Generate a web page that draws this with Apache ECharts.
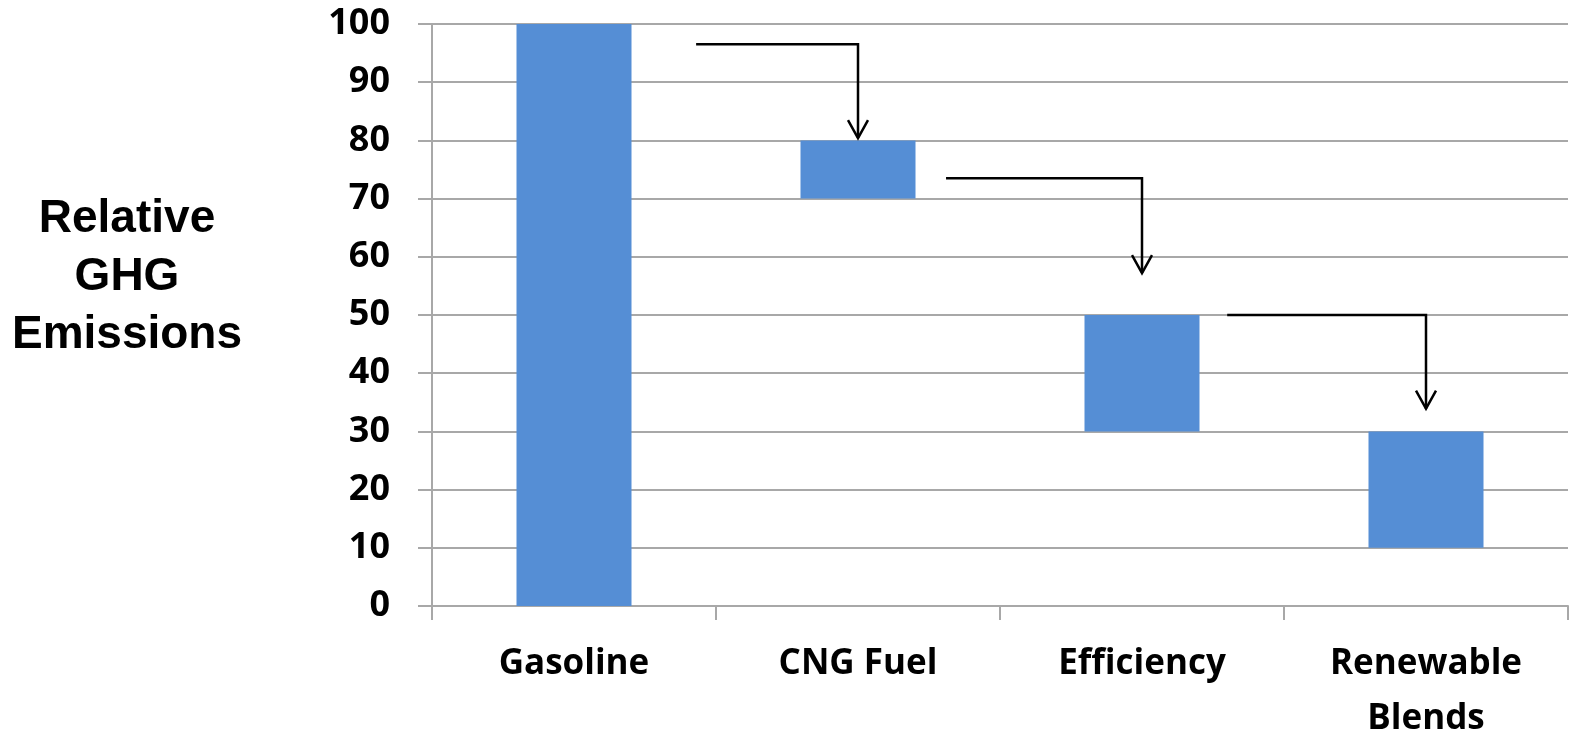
<!DOCTYPE html>
<html>
<head>
<meta charset="utf-8">
<script src="https://cdn.jsdelivr.net/npm/echarts@6/dist/echarts.min.js"></script>
<style>
html,body{margin:0;padding:0;background:#fff;}
#chart{width:1569px;height:734px;}
</style>
</head>
<body>
<div id="chart"></div>
<script>
// ---- data ----
var categories = ['Gasoline', 'CNG Fuel', 'Efficiency', 'Renewable\nBlends'];
var barBase = [0, 70, 30, 10];       // invisible lower part of each bar
var barHeight = [100, 10, 20, 20];   // visible part (top - base)
var yTicks = [0, 10, 20, 30, 40, 50, 60, 70, 80, 90, 100];
// arrows: from category index, start offset (fraction of a band), start value, end value
var arrowFrom = [0, 1, 2];
var arrowStartFrac = [0.43, 0.31, 0.30];
var arrowStartY = [96.5, 73.5, 50];
var arrowEndY = [80.4, 57.2, 33.9];

var arrowData = arrowFrom.map(function (f, i) {
  return [f, arrowStartFrac[i], arrowStartY[i], arrowEndY[i]];
});

var gridColor = '#a8a8a8';
var labelFont = '"Open Sans", "Noto Sans", sans-serif';

var chart = echarts.init(document.getElementById('chart'));
chart.setOption({
  animation: false,
  backgroundColor: '#ffffff',
  grid: { left: 432, right: 1, top: 24, bottom: 128, containLabel: false, outerBoundsMode: 'none' },
  graphic: [{
    type: 'text',
    x: 127,
    y: 277,
    style: {
      text: 'Relative\nGHG\nEmissions',
      font: 'bold 46px "Liberation Sans", Arial, sans-serif',
      fill: '#000',
      align: 'center',
      verticalAlign: 'middle',
      lineHeight: 58
    }
  }],
  xAxis: {
    type: 'category',
    data: categories,
    boundaryGap: true,
    axisLine: { show: true, lineStyle: { color: gridColor, width: 2 } },
    axisTick: { show: true, length: 14, interval: 0, lineStyle: { color: gridColor, width: 2 } },
    axisLabel: {
      interval: 0,
      margin: 31,
      color: '#000',
      fontFamily: labelFont,
      fontWeight: 'bold',
      fontSize: 35,
      lineHeight: 55
    },
    splitLine: { show: false }
  },
  yAxis: {
    type: 'value',
    min: yTicks[0],
    max: yTicks[yTicks.length - 1],
    interval: 10,
    axisLine: { show: true, lineStyle: { color: gridColor, width: 2 } },
    axisTick: { show: true, length: 14, lineStyle: { color: gridColor, width: 2 } },
    axisLabel: {
      margin: 42,
      color: '#000',
      fontFamily: labelFont,
      fontWeight: 'bold',
      fontSize: 36
    },
    splitLine: { show: true, lineStyle: { color: gridColor, width: 2 } }
  },
  series: [
    {
      name: 'base',
      type: 'bar',
      stack: 'w',
      barWidth: 115,
      data: barBase,
      itemStyle: { color: 'rgba(0,0,0,0)' },
      silent: true
    },
    {
      name: 'value',
      type: 'bar',
      stack: 'w',
      barWidth: 115,
      data: barHeight,
      itemStyle: { color: '#558ED5' }
    },
    {
      name: 'arrows',
      type: 'custom',
      clip: false,
      z: 10,
      data: arrowData,
      encode: { x: 0, y: 2 },
      renderItem: function (params, api) {
        var from = api.value(0);
        var frac = api.value(1);
        var sy = api.value(2);
        var ey = api.value(3);
        var pA = api.coord([from, sy]);
        var pB = api.coord([from + 1, sy]);
        var pE = api.coord([from + 1, ey]);
        var x0 = pA[0] + frac * (pB[0] - pA[0]);
        var x1 = pB[0];
        var y0 = pA[1];
        var y1 = pE[1];
        var st = { stroke: '#000', lineWidth: 2.5, fill: null, lineJoin: 'miter' };
        return {
          type: 'group',
          children: [
            { type: 'polyline', shape: { points: [[x0, y0], [x1, y0], [x1, y1]] }, style: st },
            { type: 'polyline', shape: { points: [[x1 - 10, y1 - 18], [x1, y1], [x1 + 10, y1 - 18]] }, style: st }
          ]
        };
      }
    }
  ]
});
</script>
</body>
</html>
